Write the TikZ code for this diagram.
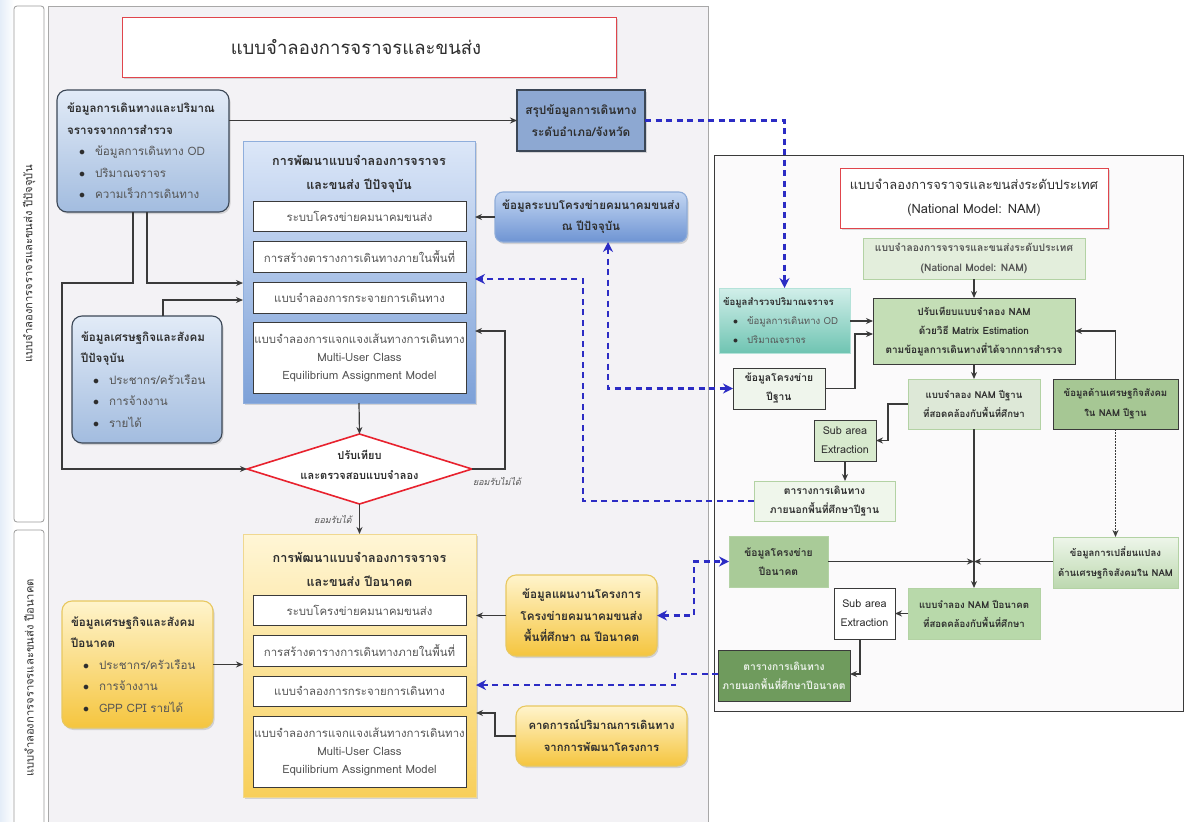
\documentclass[tikz,border=0pt]{standalone}
\usepackage{fontspec}
\setmainfont[Script=Thai]{Loma}
\usetikzlibrary{arrows.meta,shadows,shapes.geometric}
\definecolor{bgpanel}{HTML}{F3F2F5}
\definecolor{panelborder}{HTML}{A8A8A8}
\definecolor{laneborder}{HTML}{9A9A9A}
\definecolor{titlered}{HTML}{E0454C}
\definecolor{darkedge}{HTML}{3B4756}
\definecolor{blueTop}{HTML}{E2EBF7}
\definecolor{blueBot}{HTML}{A2BCDF}
\definecolor{cTop}{HTML}{DCE7F8}
\definecolor{cBot}{HTML}{7DA1D8}
\definecolor{cEdge}{HTML}{8FAEDC}
\definecolor{bFill}{HTML}{8DA8D2}
\definecolor{eTop}{HTML}{C3D6F2}
\definecolor{eBot}{HTML}{6E94D3}
\definecolor{eEdge}{HTML}{8EACD8}
\definecolor{yTop}{HTML}{FFF4CC}
\definecolor{yBot}{HTML}{F5C53E}
\definecolor{dTop}{HTML}{FFF6D6}
\definecolor{dBot}{HTML}{F8CF5A}
\definecolor{dEdge}{HTML}{F0D890}
\definecolor{yEdge}{HTML}{E8C860}
\definecolor{txtdark}{HTML}{2E2E2E}
\definecolor{txtgray}{HTML}{555555}
\definecolor{linegray}{HTML}{3A3A3A}
\definecolor{dashblue}{HTML}{2C2CC4}
\definecolor{diared}{HTML}{E8222E}
\definecolor{mTop}{HTML}{D2EFEA}
\definecolor{mBot}{HTML}{6FC4B2}
\definecolor{kFill}{HTML}{E3EEDC}
\definecolor{kEdge}{HTML}{B3D2A4}
\definecolor{lFill}{HTML}{C4DEB6}
\definecolor{oFill}{HTML}{DDE8D7}
\definecolor{pFill}{HTML}{A6C794}
\definecolor{qFill}{HTML}{D8EACE}
\definecolor{rFill}{HTML}{EFF6EB}
\definecolor{sFill}{HTML}{A9CB98}
\definecolor{tTop}{HTML}{EEF6EA}
\definecolor{tBot}{HTML}{BCD8AF}
\definecolor{uFill}{HTML}{B8D9AA}
\definecolor{wFill}{HTML}{6F9B5D}
\definecolor{nFill}{HTML}{EFF5EC}
\definecolor{rpanel}{HTML}{FBFAFB}
\definecolor{leftTint}{HTML}{E4EDF8}
\newcommand\fsTitle{\fontsize{18.5}{22}\selectfont}
\newcommand\fsMain{\fontsize{11.6}{21.5}\selectfont}
\newcommand\fsHead{\fontsize{12.6}{24}\selectfont}
\newcommand\fsIn{\fontsize{11.4}{18}\selectfont}
\newcommand\fsR{\fontsize{10.3}{19}\selectfont}
\newcommand\fsRs{\fontsize{9.6}{20}\selectfont}
\newcommand\fsLane{\fontsize{11.2}{13}\selectfont}
\newcommand\fsLab{\fontsize{9}{10}\selectfont\itshape}
\newcommand\bul[1]{\hspace*{12pt}$\bullet$\hspace{10pt}{\color{txtgray}#1}}
\newcommand\bulr[1]{\hspace*{10pt}$\bullet$\hspace{9pt}{\color{txtgray}#1}}
\begin{document}
\begin{tikzpicture}[x=1pt,y=-1pt,
 every node/.style={inner sep=0pt,outer sep=0pt,text=txtdark},
 shad/.style={drop shadow={opacity=0.28,shadow xshift=1.5pt,shadow yshift=-2pt}},
 lanebox/.style={draw=laneborder,line width=0.8pt,rounded corners=3pt,fill=white,font=\fsLane},
 titlebox/.style={draw=titlered,line width=1pt,fill=white,shad},
 listbox/.style={rounded corners=10pt,line width=1.1pt,align=left,shad,font=\fsMain},
 bluelist/.style={listbox,draw=darkedge,top color=blueTop,bottom color=blueBot},
 yellist/.style={listbox,draw=yEdge,top color=yTop,bottom color=yBot},
 bigbox/.style={line width=1pt},
 inner/.style={draw=linegray,line width=1pt,fill=white,align=center,font=\fsIn,text=txtgray,minimum width=213pt},
 hd/.style={align=center,font=\fsHead\bfseries},
 rbox/.style={draw=linegray,line width=0.9pt,align=center,font=\fsR\bfseries},
 lbox/.style={draw=kEdge,line width=0.9pt,align=center,font=\fsR\bfseries},
 dia/.style={diamond,draw=diared,line width=1.6pt,fill=white,minimum width=225pt,minimum height=70pt},
 arr/.style={draw=linegray,line width=1.2pt,-{Stealth[length=7pt,width=6pt]}},
 plain/.style={draw=linegray,line width=1.2pt},
 barr/.style={draw=dashblue,line width=2.2pt,dash pattern=on 6pt off 4.5pt,-{Stealth[length=10pt,width=10pt]}},
 barrb/.style={draw=dashblue,line width=2.2pt,dash pattern=on 6pt off 4.5pt,{Stealth[length=10pt,width=10pt]}-{Stealth[length=10pt,width=10pt]}},
 lab/.style={font=\fsLab,text=txtgray}]
\useasboundingbox (0,0) rectangle (1189,822);
\fill[white] (0,0) rectangle (1189,822);
\shade[left color=leftTint,right color=white] (0,0) rectangle (14,822);
% panels
\filldraw[fill=bgpanel,draw=panelborder,line width=1pt] (48,6) rectangle (708,830);
\filldraw[fill=rpanel,draw=linegray,line width=1pt] (714,155) rectangle (1183,711);
% lanes
\node[lanebox,rotate=90,minimum width=516pt,minimum height=30pt] (lane1) at (29,264) {แบบจำลองการจราจรและขนส่ง ปีปัจจุบัน};
\node[lanebox,rotate=90,minimum width=296pt,minimum height=30pt] (lane2) at (29,678) {แบบจำลองการจราจรและขนส่ง ปีอนาคต};
% title
\node[titlebox,minimum width=494pt,minimum height=60pt,font=\fsTitle] (title) at (369,47) {แบบจำลองการจราจรและขนส่ง\hspace*{26pt}};
% left column
\node[bluelist,minimum width=172pt,minimum height=122pt,text width=152pt] (A) at (143,151)
 {\textbf{ข้อมูลการเดินทางและปริมาณ}\\\textbf{จราจรจากการสำรวจ}\\\bul{ข้อมูลการเดินทาง OD}\\\bul{ปริมาณจราจร}\\\bul{ความเร็วการเดินทาง}};
\node[bluelist,minimum width=150pt,minimum height=127pt,text width=132pt] (F) at (147,379.5)
 {\textbf{ข้อมูลเศรษฐกิจและสังคม}\\\textbf{ปีปัจจุบัน}\\\bul{ประชากร/ครัวเรือน}\\\bul{การจ้างงาน}\\\bul{รายได้}};
\node[yellist,minimum width=151pt,minimum height=127pt,text width=133pt] (G) at (137.5,664.5)
 {\textbf{ข้อมูลเศรษฐกิจและสังคม}\\\textbf{ปีอนาคต}\\\bul{ประชากร/ครัวเรือน}\\\bul{การจ้างงาน}\\\bul{GPP CPI รายได้}};
% current-year model box
\node[bigbox,draw=cEdge,top color=cTop,bottom color=cBot,shad,minimum width=232pt,minimum height=262pt] (C) at (359,272) {};
\node[hd] (Ct) at (359,174) {การพัฒนาแบบจำลองการจราจร\\และขนส่ง ปีปัจจุบัน};
\node[inner,minimum height=30pt] (C1) at (359.5,216) {ระบบโครงข่ายคมนาคมขนส่ง};
\node[inner,minimum height=31pt] (C2) at (359.5,256.5) {การสร้างตารางการเดินทางภายในพื้นที่};
\node[inner,minimum height=31pt] (C3) at (359.5,297.5) {แบบจำลองการกระจายการเดินทาง};
\node[inner,minimum height=71pt] (C4) at (359.5,357.5) {แบบจำลองการแจกแจงเส้นทางการเดินทาง\\Multi-User Class\\Equilibrium Assignment Model};
% diamond
\node[dia] (dia) at (359.5,469) {};
\node[align=center,font=\fontsize{11}{20}\selectfont\bfseries] (diat) at (359.5,465) {ปรับเทียบ\\และตรวจสอบแบบจำลอง};
% future-year model box
\node[bigbox,draw=dEdge,top color=dTop,bottom color=dBot,shad,minimum width=233pt,minimum height=263pt] (D) at (359.5,665.5) {};
\node[hd] (Dt) at (359.5,569.5) {การพัฒนาแบบจำลองการจราจร\\และขนส่ง ปีอนาคต};
\node[inner,minimum height=30pt] (D1) at (359.5,610) {ระบบโครงข่ายคมนาคมขนส่ง};
\node[inner,minimum height=31pt] (D2) at (359.5,650.5) {การสร้างตารางการเดินทางภายในพื้นที่};
\node[inner,minimum height=30pt] (D3) at (359.5,691) {แบบจำลองการกระจายการเดินทาง};
\node[inner,minimum height=71pt] (D4) at (359.5,751.5) {แบบจำลองการแจกแจงเส้นทางการเดินทาง\\Multi-User Class\\Equilibrium Assignment Model};
% middle column
\node[draw=darkedge,line width=1.1pt,fill=bFill,shad,minimum width=128pt,minimum height=61pt,align=center,font=\fontsize{11.8}{22}\selectfont\bfseries] (B) at (581,120.5) {สรุปข้อมูลการเดินทาง\\ระดับอำเภอ/จังหวัด};
\node[listbox,align=center,draw=eEdge,top color=eTop,bottom color=eBot,rounded corners=8pt,minimum width=192pt,minimum height=50pt,font=\fontsize{11.6}{21}\selectfont\bfseries] (E) at (591,217) {ข้อมูลระบบโครงข่ายคมนาคมขนส่ง\\ณ ปีปัจจุบัน};
\node[listbox,align=center,draw=yEdge,top color=yTop,bottom color=yBot,minimum width=151pt,minimum height=81pt,font=\fontsize{11.7}{21.5}\selectfont\bfseries] (H) at (581.5,615.5) {ข้อมูลแผนงานโครงการ\\โครงข่ายคมนาคมขนส่ง\\พื้นที่ศึกษา ณ ปีอนาคต};
\node[listbox,align=center,draw=yEdge,top color=yTop,bottom color=yBot,minimum width=171pt,minimum height=60pt,font=\fontsize{11.3}{22}\selectfont\bfseries] (I) at (601.5,736) {คาดการณ์ปริมาณการเดินทาง\\จากการพัฒนาโครงการ};
% right panel
\node[titlebox,minimum width=268pt,minimum height=60pt,align=center,font=\fontsize{12.9}{24}\selectfont] (J) at (974,198) {แบบจำลองการจราจรและขนส่งระดับประเทศ\\(National Model: NAM)};
\node[lbox,fill=kFill,minimum width=222pt,minimum height=41pt,font=\fontsize{10.3}{20}\selectfont\bfseries,text=txtgray] (K) at (974,258.5) {แบบจำลองการจราจรและขนส่งระดับประเทศ\\(National Model: NAM)};
\node[rbox,fill=lFill,minimum width=202pt,minimum height=66pt,font=\fontsize{10}{19}\selectfont\bfseries] (L) at (974,331) {ปรับเทียบแบบจำลอง NAM\\ด้วยวิธี Matrix Estimation\\ตามข้อมูลการเดินทางที่ได้จากการสำรวจ};
\node[draw=mTop!70!mBot,line width=0.9pt,top color=mTop,bottom color=mBot,minimum width=131pt,minimum height=65pt,text width=123pt,align=left,font=\fontsize{9.6}{19}\selectfont] (M) at (784.5,320.5) {\textbf{ข้อมูลสำรวจปริมาณจราจร}\\\bulr{ข้อมูลการเดินทาง OD}\\\bulr{ปริมาณจราจร}};
\node[rbox,fill=nFill,minimum width=92pt,minimum height=41pt] (N) at (779,388.5) {ข้อมูลโครงข่าย\\ปีฐาน};
\node[lbox,fill=oFill,minimum width=132pt,minimum height=50pt,font=\fontsize{9.6}{19}\selectfont\bfseries] (O) at (974,404) {แบบจำลอง NAM ปีฐาน\\ที่สอดคล้องกับพื้นที่ศึกษา};
\node[rbox,fill=pFill,minimum width=125pt,minimum height=50pt,font=\fsRs\bfseries] (P) at (1115.5,404) {ข้อมูลด้านเศรษฐกิจสังคม\\ใน NAM ปีฐาน};
\node[rbox,fill=qFill,minimum width=62pt,minimum height=41pt,font=\fontsize{10.8}{19}\selectfont] (Q) at (845,440.5) {Sub area\\Extraction};
\node[lbox,fill=rFill,minimum width=141pt,minimum height=40pt] (R) at (824.5,501) {ตารางการเดินทาง\\ภายนอกพื้นที่ศึกษาปีฐาน};
\node[lbox,fill=sFill,minimum width=99pt,minimum height=51pt] (S) at (778.5,561.5) {ข้อมูลโครงข่าย\\ปีอนาคต};
\node[lbox,top color=tTop,bottom color=tBot,minimum width=125pt,minimum height=51pt,font=\fsRs\bfseries] (T) at (1115.5,562.5) {ข้อมูลการเปลี่ยนแปลง\\ด้านเศรษฐกิจสังคมใน NAM};
\node[lbox,fill=uFill,minimum width=132pt,minimum height=51pt,font=\fontsize{9.6}{19}\selectfont\bfseries] (U) at (974,613.5) {แบบจำลอง NAM ปีอนาคต\\ที่สอดคล้องกับพื้นที่ศึกษา};
\node[rbox,fill=white,minimum width=61pt,minimum height=51pt,font=\fontsize{10.8}{19}\selectfont] (V) at (864.5,613.5) {Sub area\\Extraction};
\node[rbox,fill=wFill,minimum width=132pt,minimum height=51pt,text=white!85!wFill] (W) at (784,675.5) {ตารางการเดินทาง\\ภายนอกพื้นที่ศึกษาปีอนาคต};
\coordinate (J0) at (974,561.5);
% connectors left
\draw[arr] (A.east |- B.west) -- (B.west);
\draw[arr] (A.south -| 147,0) |- (C.west |- 0,283);
\draw[arr] (A.south -| 133,0) -- (133,283) -- (62,283) |- (dia.west);
\draw[arr] (F.north -| 163,0) |- (C.west |- 0,300);
\draw[arr] (C.south) -- (dia.north);
\draw[arr] (dia.east) -- (505,469) -- (505,331) -- (C.east |- 0,331);
\node[lab] (lno) at (497,481) {ยอมรับไม่ได้};
\draw[arr] (dia.south) -- (D.north);
\node[lab] (lyes) at (333,519) {ยอมรับได้};
\draw[arr] (E.west) -- (C.east |- E.west);
\draw[arr] (G.east) -- (D.west |- G.east);
\draw[arr] (H.west) -- (D.east |- H.west);
\draw[arr] (I.west) -- (495,736) -- (495,713) -- (D.east |- 0,713);
% connectors right
\draw[arr] (K.south) -- (L.north);
\draw[arr] (M.east |- 0,321) -- (L.west |- 0,321);
\draw[arr] (N.east) -- (855,388.5) -- (855,334) -- (L.west |- 0,334);
\draw[arr] (P.north) -- (P.north |- 0,331) -- (L.east |- 0,331);
\draw[arr] (L.south) -- (O.north);
\draw[arr] (O.west) -- (888,404) -- (888,440.5) -- (Q.east);
\draw[arr] (Q.south) -- (Q.south |- R.north);
\draw[plain] (O.south) -- (J0);
\draw[arr] (S.east) -- (J0);
\draw[arr] (T.west |- J0) -- (J0);
\draw[arr] (J0) -- (U.north);
\draw[arr,dash pattern=on 1.5pt off 1.5pt] (P.south) -- (T.north);
\draw[arr] (U.west) -- (V.east);
\draw[arr] (V.south -| 860,0) |- (W.east |- 0,674);
% dashed blue
\draw[barr] (B.east) -| (M.north);
\draw[barrb] (E.south -| 608,0) |- (N.west);
\draw[barr] (R.west) -- (583,501) -- (583,279) -- (C.east |- 0,279);
\draw[barrb] (H.east) -- (694,615.5) -- (694,561.5) -- (S.west);
\draw[barr] (W.west |- 0,674) -- (675,674) -- (675,685) -- (D.east |- 0,685);
\end{tikzpicture}
\end{document}
